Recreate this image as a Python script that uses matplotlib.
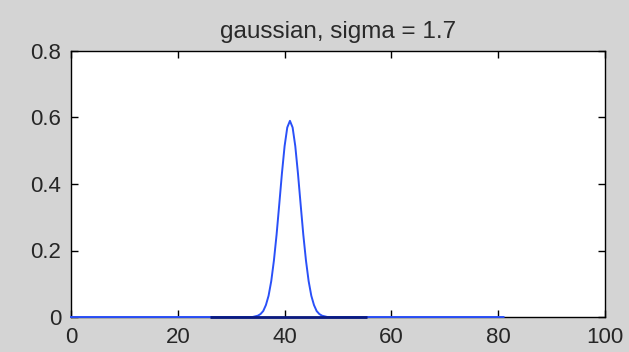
import matplotlib
matplotlib.use("Agg")
import matplotlib.pyplot as plt

# Data
gauss_x = [0, 34, 34.5, 35, 35.5, 36, 36.5, 37, 37.5, 38, 38.5, 39, 39.5, 40, 40.5,
           41, 41.5, 42, 42.5, 43, 43.5, 44, 44.5, 45, 45.5, 46, 46.5, 47, 47.5, 48, 81]
gauss_y = [0, 0, 0.002, 0.004, 0.009, 0.018, 0.036, 0.064, 0.108, 0.170, 0.248, 0.339, 0.432, 0.514, 0.570,
           0.59, 0.570, 0.514, 0.432, 0.339, 0.248, 0.170, 0.108, 0.064, 0.036, 0.018, 0.009, 0.004, 0.002, 0, 0]
base_x = [26, 55.5]
base_y = [0, 0]

title = "gaussian, sigma = 1.7"
xticks = [0, 20, 40, 60, 80, 100]
yticks = [0, 0.2, 0.4, 0.6, 0.8]
ytick_labels = ["0", "0.2", "0.4", "0.6", "0.8"]

plt.rcParams['font.family'] = ['Liberation Sans', 'DejaVu Sans']

W, H = 629, 352
fig = plt.figure(figsize=(W/100, H/100), dpi=100, facecolor='#d4d4d4')
ax = fig.add_axes([71/W, 1-317/H, (605-71)/W, (317-51)/H])
ax.set_facecolor('white')

ax.plot(gauss_x, gauss_y, color='#2a50f8', lw=1.4, zorder=4, clip_on=False)
ax.plot(base_x, base_y, color='#0a1a80', lw=2.0, solid_capstyle='butt', zorder=5, clip_on=False)

ax.set_xlim(0, 100)
ax.set_ylim(0, 0.8)
ax.set_xticks(xticks)
ax.set_yticks(yticks)
ax.set_yticklabels(ytick_labels)
ax.tick_params(direction='in', length=5, width=1, top=True, right=True,
               labelsize=16, colors='black', labelcolor='#262626')
ax.tick_params(axis='x', pad=7)
ax.tick_params(axis='y', pad=7)
for s in ax.spines.values():
    s.set_linewidth(1)
    s.set_color('black')
ax.set_title(title, fontsize=17.5, color='#2a2a2a', pad=9)

fig.savefig('out.png', dpi=100, facecolor=fig.get_facecolor())
